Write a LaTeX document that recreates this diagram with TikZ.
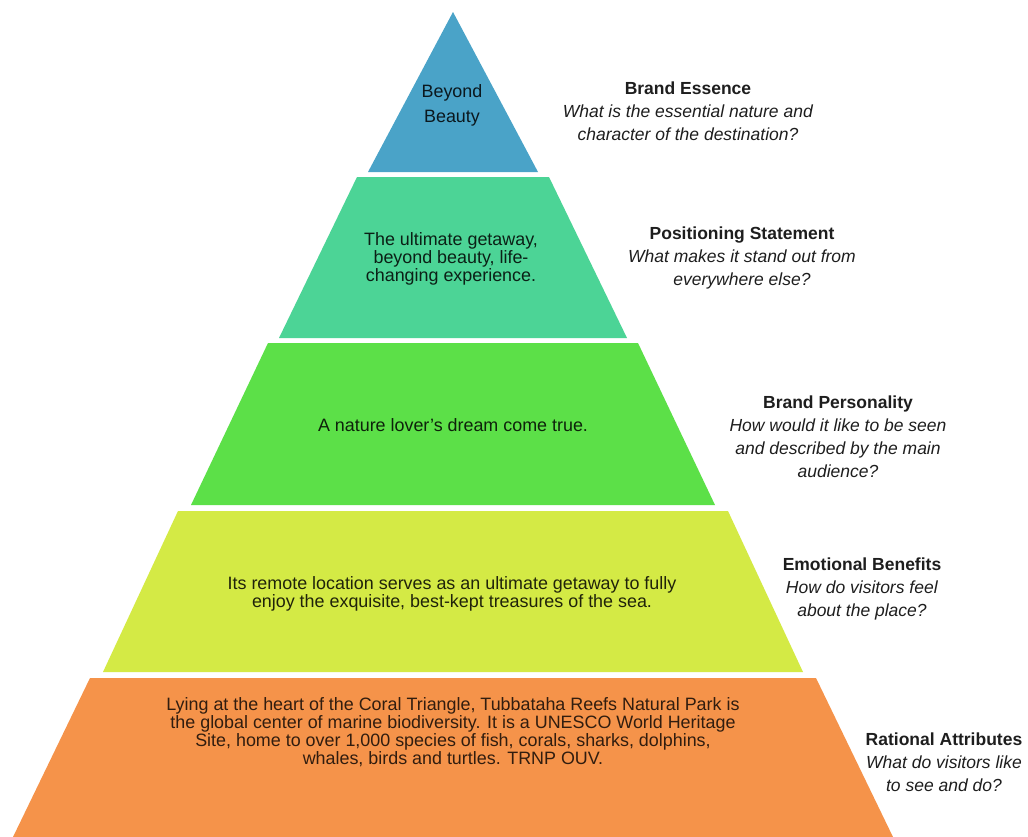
\documentclass[tikz,border=0pt]{standalone}
\usepackage{fontspec}
\setmainfont{Liberation Sans}
\definecolor{cBlue}{HTML}{4AA3C8}
\definecolor{cMint}{HTML}{4CD496}
\definecolor{cGreen}{HTML}{5CE048}
\definecolor{cLime}{HTML}{D4EA45}
\definecolor{cOrange}{HTML}{F5934A}
\definecolor{cText}{HTML}{1E1E1E}
\tikzset{
  inner/.style={align=center, text=cText, inner sep=0pt, font=\fontsize{17.9bp}{18.2bp}\selectfont},
  label/.style={align=center, text=cText, inner sep=0pt, font=\fontsize{17.5bp}{23bp}\selectfont},
}
\begin{document}
\begin{tikzpicture}[x=1bp,y=-1bp]
\useasboundingbox[fill=white] (0,0) rectangle (1028,837);
% layers
\fill[cBlue] (453,12) -- (538,172) -- (368,172) -- cycle;
\fill[cMint] (357,177) -- (549,177) -- (627,338) -- (279,338) -- cycle;
\fill[cGreen] (268,343) -- (638,343) -- (715,505) -- (191,505) -- cycle;
\fill[cLime] (178,511) -- (728,511) -- (803,672) -- (103,672) -- cycle;
\fill[cOrange] (90,678) -- (816,678) -- (893,837) -- (13,837) -- cycle;
% inner texts
\node[inner, text=black!85!cBlue, font=\fontsize{17.9bp}{25bp}\selectfont] (t1) at (452,105) {Beyond\\Beauty};
\node[inner, text=black!85!cMint] (t2) at (451,259) {The ultimate getaway,\\beyond beauty, life-\\changing experience.};
\node[inner, text=black!85!cGreen] (t3) at (453,425) {A nature lover's dream come true.};
\node[inner, text=black!85!cLime] (t4) at (452,594) {Its remote location serves as an ultimate getaway to fully\\enjoy the exquisite, best-kept treasures of the sea.};
\node[inner, text=black!80!cOrange] (t5) at (453,732) {Lying at the heart of the Coral Triangle, Tubbataha Reefs Natural Park is\\the global center of marine biodiversity. It is a UNESCO World Heritage\\Site, home to over 1,000 species of fish, corals, sharks, dolphins,\\whales, birds and turtles. TRNP OUV.};
% right labels
\node[label] (l1) at (688,111) {\textbf{Brand Essence}\\\textit{What is the essential nature and}\\\textit{character of the destination?}};
\node[label] (l2) at (742,258) {\textbf{Positioning Statement}\\\textit{What makes it stand out from}\\\textit{everywhere else?}};
\node[label] (l3) at (838,437) {\textbf{Brand Personality}\\\textit{How would it like to be seen}\\\textit{and described by the main}\\\textit{audience?}};
\node[label] (l4) at (862,589) {\textbf{Emotional Benefits}\\\textit{How do visitors feel}\\\textit{about the place?}};
\node[label] (l5) at (944,762) {\textbf{Rational Attributes}\\\textit{What do visitors like}\\\textit{to see and do?}};
\end{tikzpicture}
\end{document}
